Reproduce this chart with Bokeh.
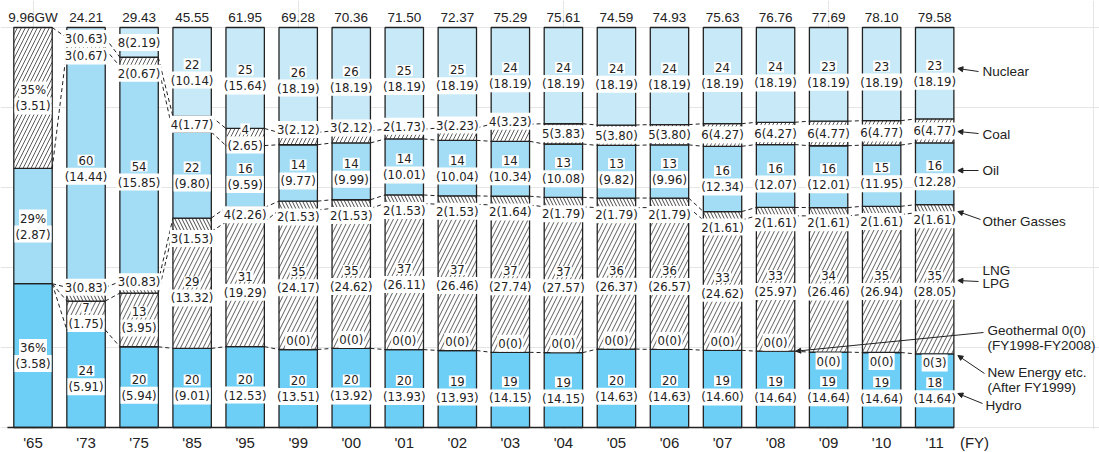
import numpy as np
from bokeh.plotting import figure
from bokeh.models import Range1d, FixedTicker, LinearAxis, Arrow, NormalHead, ColumnDataSource
from bokeh.core.properties import value
from bokeh.embed import file_html
from bokeh.resources import INLINE

# ---------------- data ----------------
years = ["'65", "'73", "'75", "'85", "'95", "'99", "'00", "'01", "'02", "'03",
         "'04", "'05", "'06", "'07", "'08", "'09", "'10", "'11"]
total_gw = [9.96, 24.21, 29.43, 45.55, 61.95, 69.28, 70.36, 71.50, 72.37, 75.29,
            75.61, 74.59, 74.93, 75.63, 76.76, 77.69, 78.10, 79.58]

hydro_gw = [3.58, 5.91, 5.94, 9.01, 12.53, 13.51, 13.92, 13.93, 13.93, 14.15,
            14.15, 14.63, 14.63, 14.60, 14.64, 14.64, 14.64, 14.64]
hydro_pct = [36, 24, 20, 20, 20, 20, 20, 20, 19, 19, 19, 20, 20, 19, 19, 19, 19, 18]

geothermal_gw = [None, None, None, None, None, 0, 0, 0, 0, 0,
                 0, 0, 0, 0, 0, None, None, None]
new_energy_mw = [None, None, None, None, None, None, None, None, None, None,
                 None, None, None, None, None, 0, 0, 3]

lng_gw = [0, 1.75, 3.95, 13.32, 19.29, 24.17, 24.62, 26.11, 26.46, 27.74,
          27.57, 26.37, 26.57, 24.62, 25.97, 26.46, 26.94, 28.05]
lng_pct = [None, 7, 13, 29, 31, 35, 35, 37, 37, 37, 37, 36, 36, 33, 33, 34, 35, 35]

other_gw = [0, 0.83, 0.83, 1.53, 2.26, 1.53, 1.53, 1.53, 1.53, 1.64,
            1.79, 1.79, 1.79, 1.61, 1.61, 1.61, 1.61, 1.61]
other_pct = [None, 3, 3, 3, 4, 2, 2, 2, 2, 2, 2, 2, 2, 2, 2, 2, 2, 2]

oil_gw = [2.87, 14.44, 15.85, 9.80, 9.59, 9.77, 9.99, 10.01, 10.04, 10.34,
          10.08, 9.82, 9.96, 12.34, 12.07, 12.01, 11.95, 12.28]
oil_pct = [29, 60, 54, 22, 16, 14, 14, 14, 14, 14, 13, 13, 13, 16, 16, 16, 15, 16]

coal_gw = [3.51, 0.67, 0.67, 1.77, 2.65, 2.12, 2.12, 1.73, 2.23, 3.23,
           3.83, 3.80, 3.80, 4.27, 4.27, 4.77, 4.77, 4.77]
coal_pct = [35, 3, 2, 4, 4, 3, 3, 2, 3, 4, 5, 5, 5, 6, 6, 6, 6, 6]

nuclear_gw = [0, 0.63, 2.19, 10.14, 15.64, 18.19, 18.19, 18.19, 18.19, 18.19,
              18.19, 18.19, 18.19, 18.19, 18.19, 18.19, 18.19, 18.19]
nuclear_pct = [None, 3, 8, 22, 25, 26, 26, 25, 25, 24, 24, 24, 24, 24, 24, 23, 23, 23]

# ---------------- geometry helpers ----------------
n = len(years)
idx = np.arange(n, dtype=float)
PITCH_PX = 53.04
W = 38.4 / PITCH_PX          # bar width in x units
PY = 0.25                    # y units per pixel (100 units = 400 px)
FRAME_W = 1099
X0 = -32.5 / PITCH_PX
X1 = X0 + FRAME_W / PITCH_PX
Y0 = -0.5
Y1 = 100 + 27 * PY

def z(v):
    return np.array([0.0 if a is None else float(a) for a in v])

stack = [
    ("hydro", z(hydro_gw)),
    ("geo", z(geothermal_gw)),
    ("new", z(new_energy_mw) / 1000.0),
    ("lng", z(lng_gw)),
    ("other", z(other_gw)),
    ("oil", z(oil_gw)),
    ("coal", z(coal_gw)),
    ("nuclear", z(nuclear_gw)),
]
tot = sum(v for _, v in stack)
bottoms, tops = {}, {}
cum = np.zeros(n)
for name, v in stack:
    share = v / tot * 100.0
    bottoms[name] = cum.copy()
    cum = cum + share
    tops[name] = cum.copy()

INK = "#222222"
NARROW = "'Liberation Sans Narrow', 'Arial Narrow', 'DejaVu Sans Condensed', sans-serif"
SANS = "'Liberation Sans', Arial, sans-serif"

p = figure(frame_width=FRAME_W, frame_height=int(round((Y1 - Y0) / PY)),
           output_backend="svg", toolbar_location=None,
           x_range=Range1d(X0, X1), y_range=Range1d(Y0, Y1),
           x_axis_location=None, y_axis_location=None,
           min_border_left=0, min_border_right=0, min_border_top=0, min_border_bottom=0)
p.outline_line_color = None
p.background_fill_color = "white"
p.border_fill_color = "white"

styles = {
    "hydro":   dict(fill_color="#6dcff6"),
    "lng":     dict(fill_color="white", hatch_pattern="/", hatch_scale=9, hatch_weight=0.8, hatch_color="#333333"),
    "other":   dict(fill_color="white", hatch_pattern="\\", hatch_scale=7, hatch_weight=0.9, hatch_color="#333333"),
    "oil":     dict(fill_color="#a3dcf5"),
    "coal":    dict(fill_color="white", hatch_pattern="/", hatch_scale=8, hatch_weight=0.8, hatch_color="#333333"),
    "nuclear": dict(fill_color="#c8eaf8"),
}
for name, st in styles.items():
    m = (tops[name] - bottoms[name]) > 1e-6
    src = ColumnDataSource(dict(x=idx[m], b=bottoms[name][m], t=tops[name][m]))
    p.vbar(x="x", width=W, bottom="b", top="t", source=src,
           line_color=INK, line_width=1.3, **st)

# dashed connectors between neighbouring bars
x0s, y0s, x1s, y1s = [], [], [], []
for name in ["new", "lng", "other", "oil", "coal"]:
    b = tops[name]
    for i in range(n - 1):
        x0s.append(idx[i] + W / 2); y0s.append(b[i])
        x1s.append(idx[i + 1] - W / 2); y1s.append(b[i + 1])
p.segment(x0=x0s, y0=y0s, x1=x1s, y1=y1s, line_color=INK, line_width=1, line_dash="4 3")

# baseline
p.segment(x0=[idx[0] - W / 2 - 0.12], y0=[0], x1=[idx[-1] + W / 2], y1=[0],
          line_color=INK, line_width=1.5)

# ---------------- value labels ----------------
lx, ly, lt = [], [], []
def add(i, y, t):
    lx.append(idx[i]); ly.append(y); lt.append(t)

def two_line(i, c, pct, gw):
    suf = "%" if i == 0 else ""
    add(i, c + 8 * PY, f"{pct}{suf}")
    add(i, c - 8 * PY, f"({gw:.2f})")

def center(name, i):
    return (tops[name][i] + bottoms[name][i]) / 2

other_mode = {"'73": "top", "'75": "top", "'95": "center"}
coal_mode = {"'73": "below", "'75": "below", "'99": "above", "'00": "above",
             "'01": "above", "'02": "above", "'03": "above"}

for i in range(n):
    yr = years[i]
    two_line(i, center("hydro", i), hydro_pct[i], hydro_gw[i])
    two_line(i, center("oil", i), oil_pct[i], oil_gw[i])
    if lng_pct[i] is not None:
        two_line(i, center("lng", i), lng_pct[i], lng_gw[i])
    if other_pct[i] is not None:
        mode = other_mode.get(yr, "below")
        if mode == "top":
            y = tops["other"][i]
        elif mode == "center":
            y = center("other", i)
        else:
            y = bottoms["other"][i] - 7 * PY
        add(i, y, f"{other_pct[i]}({other_gw[i]:.2f})")
    if yr in ("'65", "'95"):
        two_line(i, center("coal", i), coal_pct[i], coal_gw[i])
    else:
        mode = coal_mode.get(yr, "center")
        if mode == "below":
            y = bottoms["coal"][i] - 7 * PY
        elif mode == "above":
            y = tops["coal"][i] + 3 * PY
        else:
            y = center("coal", i)
        add(i, y, f"{coal_pct[i]}({coal_gw[i]:.2f})")
    if nuclear_pct[i] is not None:
        if nuclear_pct[i] >= 10:
            two_line(i, center("nuclear", i), nuclear_pct[i], nuclear_gw[i])
        else:
            y = min(center("nuclear", i), 100 - 11 * PY)
            add(i, y, f"{nuclear_pct[i]}({nuclear_gw[i]:.2f})")
    if geothermal_gw[i] is not None:
        add(i, tops["hydro"][i] + 9 * PY, f"0({geothermal_gw[i]:g})")
    if new_energy_mw[i] is not None:
        add(i, tops["hydro"][i] - 9 * PY, f"0({new_energy_mw[i]:g})")

p.text(x=lx, y=ly, text=lt, text_align="center", text_baseline="middle",
       text_font=value(NARROW), text_font_size="13px", text_color=INK,
       background_fill_color="white", padding=1)

# totals above the bars
total_labels = [f"{t:.2f}" + ("GW" if i == 0 else "") for i, t in enumerate(total_gw)]
p.text(x=idx, y=[100 + 10.5 * PY] * n, text=total_labels, text_align="center",
       text_baseline="middle", text_font=value(SANS), text_font_size="13.5px",
       text_color=INK)

# ---------------- year axis below ----------------
FY_X = (974 - 32.5) / PITCH_PX
xb = LinearAxis(ticker=FixedTicker(ticks=list(idx) + [FY_X]),
                major_label_overrides={**{float(i): years[i] for i in range(n)}, FY_X: "(FY)"})
xb.axis_line_color = None
xb.major_tick_line_color = None
xb.minor_tick_line_color = None
xb.major_tick_out = 0
xb.major_tick_in = 0
xb.major_label_standoff = 4
xb.major_label_text_font = SANS
xb.major_label_text_font_size = "15px"
xb.major_label_text_color = INK
p.add_layout(xb, "below")

# ---------------- right-hand legend with pointers ----------------
def rx(px):
    return (px - 32.5) / PITCH_PX

def ry(py):
    return (427 - py) * PY

legend_items = [
    ("Nuclear", 982, 71), ("Coal", 982, 134), ("Oil", 982, 170),
    ("Other Gasses", 982, 221), ("LNG", 982, 270), ("LPG", 982, 283),
    ("Geothermal 0(0)", 987, 330), ("(FY1998-FY2008)", 987, 345),
    ("New Energy etc.", 987, 372), ("(After FY1999)", 987, 387),
    ("Hydro", 985, 405),
]
p.text(x=[rx(a) for _, a, _ in legend_items], y=[ry(b) for _, _, b in legend_items],
       text=[t for t, _, _ in legend_items], text_align="left", text_baseline="middle",
       text_font=value(SANS), text_font_size="13.5px", text_color=INK)

last_edge = idx[-1] + W / 2 + 4 / PITCH_PX
pointers = [
    ((978, 71), (last_edge, ry(68))),
    ((978, 133), (last_edge, ry(131))),
    ((978, 170), (last_edge, ry(170))),
    ((980, 219), (last_edge, ry(211))),
    ((978, 281), (last_edge, ry(280))),
    ((983, 332), (idx[years.index("'08")] + W / 2 + 0.02, tops["hydro"][years.index("'08")])),
    ((984, 373), (last_edge, ry(355))),
    ((982, 403), (last_edge, ry(393))),
]
for (sx, sy), (ex, ey) in pointers:
    p.add_layout(Arrow(end=NormalHead(size=5, fill_color=INK, line_color=INK, line_width=1),
                       x_start=rx(sx), y_start=ry(sy), x_end=ex, y_end=ey,
                       line_color=INK, line_width=1))

open("out.html", "w").write(file_html(p, INLINE))
